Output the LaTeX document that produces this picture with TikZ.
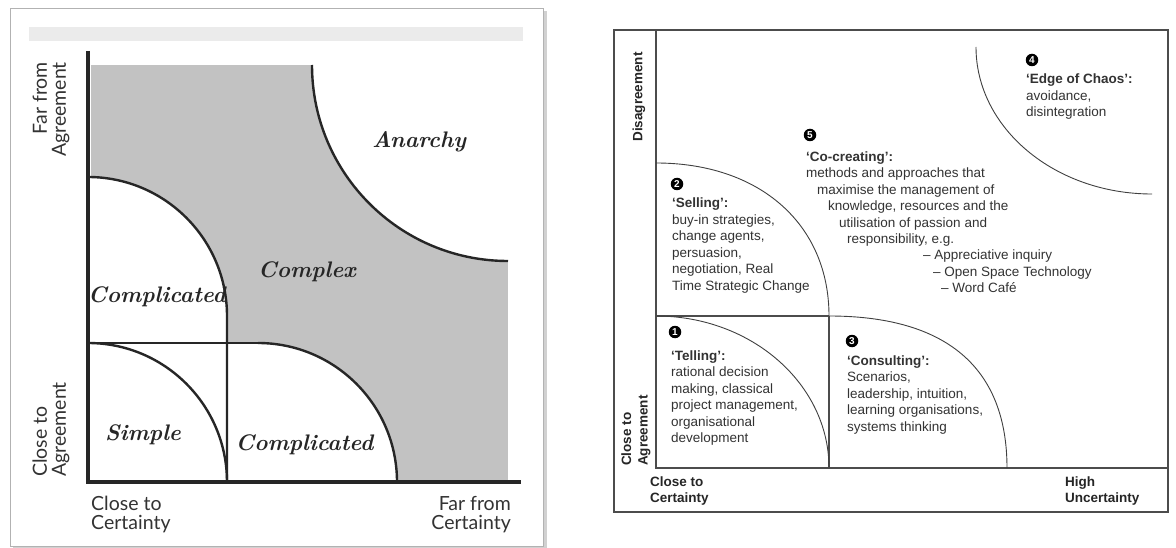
\documentclass[tikz,border=0pt]{standalone}
\usepackage{fontspec}
\newfontfamily\arialf{Liberation Sans}
\newfontfamily\gillf{Lato}
\begin{document}
\begin{tikzpicture}[x=1pt,y=-1pt,
  zone/.style={fill=black!24},
  axisline/.style={line width=3.2pt, draw=black!85},
  curve/.style={line width=2.4pt, draw=black!85},
  divider/.style={line width=2pt, draw=black!85},
  rframe/.style={line width=1.1pt, draw=black!70},
  rcurve/.style={line width=0.9pt, draw=black!75},
  btxt/.style={font=\arialf\bfseries\fontsize{13.5}{16.5}\selectfont, inner sep=0, text=black!85},
  ntxt/.style={font=\arialf\fontsize{13.5}{16.5}\selectfont, inner sep=0, text=black!80, align=left, anchor=base west},
  numdot/.style={circle, fill=black, text=white, inner sep=0, minimum size=12.5pt, font=\arialf\bfseries\fontsize{10}{10}\selectfont},
  region/.style={font=\fontsize{22.5}{22.5}\selectfont\bfseries\itshape, inner sep=0, anchor=base, text=black!85},
  gill/.style={font=\gillf\fontsize{19.5}{19}\selectfont, text=black!80, inner sep=0}
]
\useasboundingbox (0,0) rectangle (1176,548);
\fill[white] (0,0) rectangle (1176,548);

% ---------- left panel: agreement/certainty matrix ----------
\fill[black!18] (13,11) rectangle (547,548);
\filldraw[fill=white, draw=black!30, line width=0.8pt] (10,8) rectangle (543,546);
\fill[black!8] (29,27) rectangle (523,41);

% shaded "complex" zone and the white regions cut out of it
\fill[zone] (91,65) rectangle (508,482);
\fill[white] (312,65) arc[start angle=180, end angle=90, radius=196] -- (508,65) -- cycle;
\fill[white] (88,177) arc[start angle=270, end angle=360, radius=139] -- (227,343) -- (258,343)
  arc[start angle=270, end angle=360, radius=139] -- (88,482) -- cycle;

% boundaries
\draw[curve] (312,65) arc[start angle=180, end angle=90, radius=196];
\draw[curve] (88,177) arc[start angle=270, end angle=360, radius=139] -- (227,482);
\draw[divider] (88,343) -- (258,343);
\draw[curve] (258,343) arc[start angle=270, end angle=360, radius=139];
\draw[curve] (88,343) arc[start angle=270, end angle=360, radius=139];
\draw[axisline] (88,51) -- (88,483.6);
\draw[axisline] (86.4,482) -- (521,482);

% region names
\node[region] (anarchy) at (419,148) {Anarchy};
\node[region] (complex) at (307,278) {Complex};
\node[region] (compup) at (157,302) {Complicated};
\node[region] (simple) at (143,440) {Simple};
\node[region] (complow) at (304.5,450) {Complicated};

% axis labels (multi-line nodes are placed by their last baseline)
\node[gill, rotate=90, anchor=east, align=right] (farag) at (51,62) {Far from\\Agreement};
\node[gill, rotate=90, anchor=west, align=left] (closeag) at (51,477) {Close to\\Agreement};
\node[gill, align=left, anchor=base west] (closecert) at (91,529) {Close to\\Certainty};
\node[gill, align=right, anchor=base east] (farcert) at (511,529) {Far from\\Certainty};

% ---------- right panel: leadership approaches ----------
\draw[rframe] (614,30) rectangle (1168,512);
\draw[rframe] (656,30) -- (656,468) -- (1168,468);
\draw[rframe] (656,316) -- (829,316);
\draw[rframe] (829,316) -- (829,468);

% quadrant boundaries
\draw[rcurve] (656,316) arc[start angle=270, end angle=360, x radius=173, y radius=152];
\draw[rcurve] (656,163) .. controls (759.8,163) and (829,224.2) .. (829,316);
\draw[rcurve] (829,316) .. controls (946.5,316) and (1007,367.7) .. (1007,468);
\draw[rcurve] (976,47) arc[start angle=180, end angle=90, x radius=176, y radius=147];

% numbered markers
\node[numdot] (n1) at (675,332) {1};
\node[numdot] (n2) at (677,184) {2};
\node[numdot] (n3) at (852,341) {3};
\node[numdot] (n4) at (1032,60) {4};
\node[numdot] (n5) at (810,135) {5};

% approach descriptions (anchored at the baseline of their last line)
\node[ntxt] (telling) at (671,442.5) {\textbf{‘Telling’:}\\rational decision\\making, classical\\project management,\\organisational\\development};
\node[ntxt] (selling) at (672,290.5) {\textbf{‘Selling’:}\\buy-in strategies,\\change agents,\\persuasion,\\negotiation, Real\\Time Strategic Change};
\node[ntxt] (consulting) at (847,431) {\textbf{‘Consulting’:}\\Scenarios,\\leadership, intuition,\\learning organisations,\\systems thinking};
\node[ntxt] (chaos) at (1026,117) {\textbf{‘Edge of Chaos’:}\\avoidance,\\disintegration};
\node[ntxt] (cocreating) at (806,293) {\textbf{‘Co-creating’:}\\methods and approaches that\\
  \hspace*{11pt}maximise the management of\\
  \hspace*{22pt}knowledge, resources and the\\
  \hspace*{33pt}utilisation of passion and\\
  \hspace*{41pt}responsibility, e.g.\\
  \hspace*{117pt}– Appreciative inquiry\\
  \hspace*{127pt}– Open Space Technology\\
  \hspace*{135pt}– Word Café};

% axis labels
\node[btxt, rotate=90] (disagree) at (639,97) {Disagreement};
\node[btxt, rotate=90, anchor=west, align=left] (closeagr) at (636,466) {Close to\\Agreement};
\node[btxt, align=left, anchor=base west] (closecertr) at (650,502.5) {Close to\\Certainty};
\node[btxt, align=left, anchor=base west] (highunc) at (1065,502.5) {High\\Uncertainty};
\end{tikzpicture}
\end{document}
